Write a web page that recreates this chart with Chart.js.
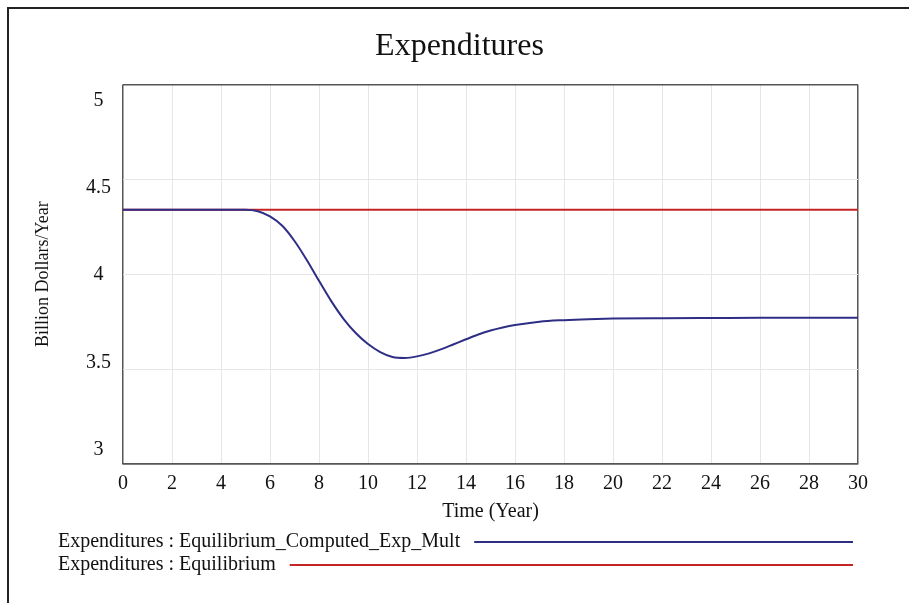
<!DOCTYPE html>
<html>
<head>
<meta charset="utf-8">
<script src="https://cdn.jsdelivr.net/npm/chart.js@4"></script>
<style>
  html, body { margin: 0; padding: 0; background: #fff; }
</style>
</head>
<body>
<canvas id="expChart" width="909" height="603"></canvas>
<script>
// --- data ---
const years = [0, 1, 2, 3, 4, 4.5, 5, 5.5, 6, 6.5, 7, 7.5, 8, 8.5, 9, 9.5, 10, 10.5, 11, 11.5, 12,
  12.5, 13, 13.5, 14, 14.5, 15, 15.5, 16, 17, 18, 19, 20, 22, 24, 26, 28, 30];
const computedExpMult = [4.34, 4.34, 4.34, 4.34, 4.34, 4.34, 4.34, 4.332, 4.305, 4.255, 4.175, 4.075,
  3.965, 3.858, 3.765, 3.69, 3.632, 3.59, 3.564, 3.559, 3.567, 3.583, 3.605, 3.631, 3.657, 3.682,
  3.703, 3.719, 3.732, 3.75, 3.758, 3.763, 3.766, 3.768, 3.769, 3.77, 3.77, 3.77];
const equilibrium = [4.34, 4.34, 4.34, 4.34, 4.34, 4.34, 4.34, 4.34, 4.34, 4.34, 4.34, 4.34,
  4.34, 4.34, 4.34, 4.34, 4.34, 4.34, 4.34, 4.34, 4.34, 4.34, 4.34, 4.34, 4.34, 4.34,
  4.34, 4.34, 4.34, 4.34, 4.34, 4.34, 4.34, 4.34, 4.34, 4.34, 4.34, 4.34];
const seriesLabels = ["Expenditures : Equilibrium_Computed_Exp_Mult", "Expenditures : Equilibrium"];
const yTickValues = [3, 3.5, 4, 4.5, 5];

const serif = "'Liberation Serif', 'Times New Roman', serif";
const toPoints = (vals) => vals.map((v, i) => ({x: years[i], y: v}));

// outer frame (left + top edge of the pasted screenshot)
const framePlugin = {
  id: "frame",
  beforeDraw(chart) {
    const c = chart.ctx;
    c.save();
    c.fillStyle = "#fff";
    c.fillRect(0, 0, chart.width, chart.height);
    c.strokeStyle = "#222";
    c.lineWidth = 2;
    c.beginPath();
    c.moveTo(8, chart.height);
    c.lineTo(8, 8);
    c.lineTo(chart.width, 8);
    c.stroke();
    c.restore();
  }
};

// vensim style legend: label followed by a long sample line
const lineLegend = {
  id: "lineLegend",
  afterDraw(chart) {
    const c = chart.ctx;
    const area = chart.chartArea;
    c.save();
    c.font = "20px " + serif;
    c.textBaseline = "middle";
    chart.data.datasets.forEach((ds, i) => {
      const x = area.left - 65;
      const y = area.bottom + 78 + i * 23;
      c.fillStyle = "#111";
      c.fillText(ds.label, x, y);
      const w = c.measureText(ds.label).width;
      c.strokeStyle = ds.borderColor;
      c.lineWidth = 2;
      c.beginPath();
      c.moveTo(x + w + 14, y);
      c.lineTo(area.right - 5, y);
      c.stroke();
    });
    c.restore();
  }
};

const isEdge = (c, a, b) => c.tick && (c.tick.value === a || c.tick.value === b);

const ctx = document.getElementById("expChart").getContext("2d");
new Chart(ctx, {
  type: "line",
  data: {
    datasets: [
      {
        label: seriesLabels[0],
        data: toPoints(computedExpMult),
        borderColor: "#2e2e86",
        borderWidth: 2,
        pointRadius: 0,
        cubicInterpolationMode: "monotone"
      },
      {
        label: seriesLabels[1],
        data: toPoints(equilibrium),
        borderColor: "#c42424",
        borderWidth: 2,
        pointRadius: 0
      }
    ]
  },
  options: {
    responsive: false,
    animation: false,
    layout: { padding: { left: 10, right: 0, top: 0, bottom: 79 } },
    plugins: {
      legend: { display: false },
      tooltip: { enabled: false },
      title: {
        display: true,
        text: "Expenditures",
        color: "#111",
        font: { family: serif, size: 32, weight: "normal" },
        padding: { top: 27, bottom: 19 }
      }
    },
    scales: {
      x: {
        type: "linear",
        min: 0,
        max: 30,
        ticks: {
          stepSize: 2,
          color: "#111",
          padding: 8,
          font: { family: serif, size: 20 }
        },
        grid: {
          drawTicks: false,
          color: (c) => isEdge(c, 0, 30) ? "#555" : "#e6e6e6",
          lineWidth: (c) => isEdge(c, 0, 30) ? 1.5 : 1
        },
        border: { color: "#555", width: 1.5 },
        title: {
          display: true,
          text: "Time (Year)",
          color: "#111",
          font: { family: serif, size: 20 },
          padding: { top: 0, bottom: 0 }
        },
        afterFit: (s) => { s.height = 60; }
      },
      y: {
        min: 3,
        max: 5,
        weight: 1,
        ticks: { display: false, stepSize: 0.5 },
        grid: {
          drawTicks: false,
          color: (c) => isEdge(c, 3, 5) ? "#555" : "#e6e6e6",
          lineWidth: (c) => isEdge(c, 3, 5) ? 1.5 : 1
        },
        border: { display: false },
        title: {
          display: true,
          text: "Billion Dollars/Year",
          color: "#111",
          font: { family: serif, size: 18 },
          padding: { top: 22, bottom: 0 }
        },
        afterFit: (s) => { s.width = 67; }
      },
      // label axis: vensim spreads the tick labels inside the plot height
      yLabels: {
        position: "left",
        weight: 0,
        min: 3 - 14 / 175,
        max: 5 + 16 / 175,
        afterBuildTicks: (s) => { s.ticks = yTickValues.map((v) => ({value: v})); },
        ticks: {
          color: "#111",
          padding: 12,
          crossAlign: "center",
          font: { family: serif, size: 20 },
          callback: (v) => String(v)
        },
        grid: { display: false, drawTicks: false },
        border: { display: false },
        afterFit: (s) => { s.width = 46; }
      },
      yRight: {
        position: "right",
        display: true,
        ticks: { display: false },
        grid: { display: false, drawTicks: false },
        border: { display: false },
        afterFit: (s) => { s.width = 51; }
      }
    }
  },
  plugins: [framePlugin, lineLegend]
});
</script>
</body>
</html>
